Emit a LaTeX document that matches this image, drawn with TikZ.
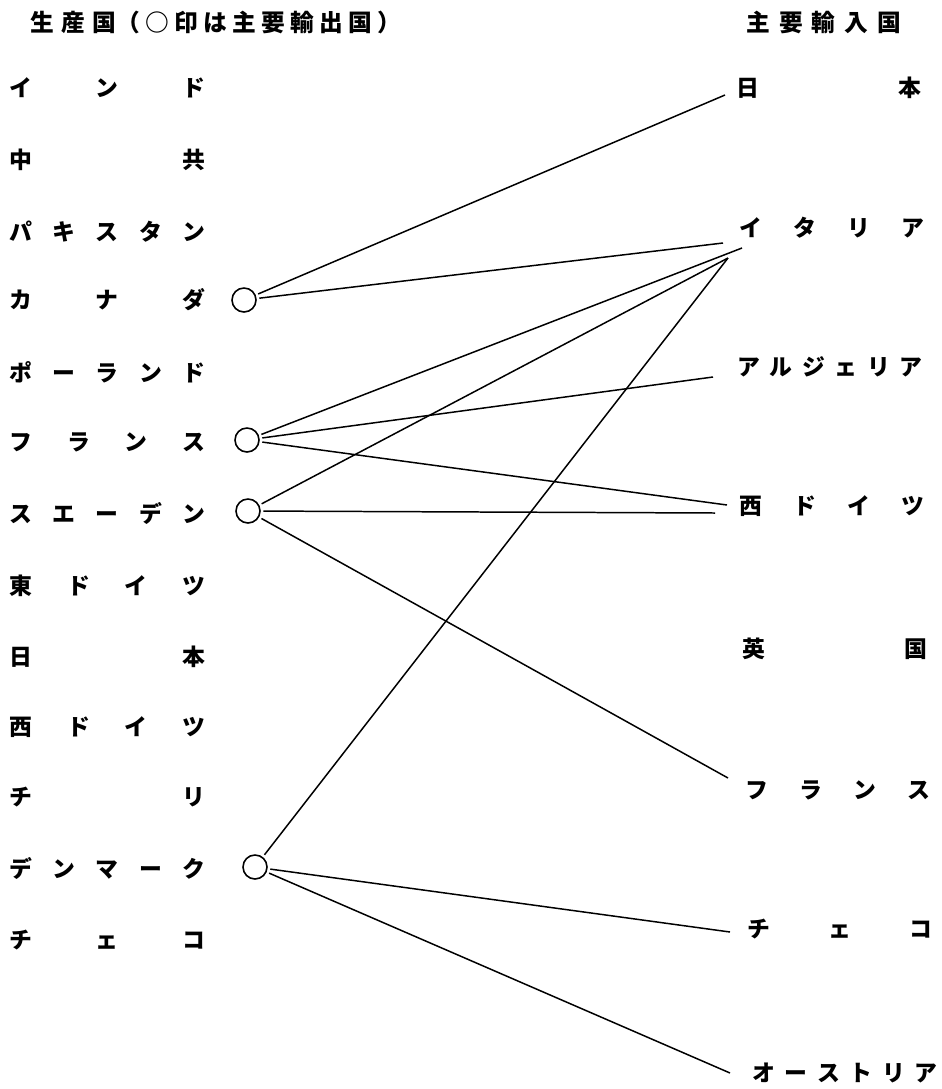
\documentclass[tikz,border=0pt]{standalone}
\usepackage{fontspec}
\usepackage{tikz}
\usetikzlibrary{positioning}
\newfontfamily\jpfont{Noto Sans CJK JP}

\tikzset{
  rowlabel/.style={anchor=west, inner sep=0pt, font=\jpfont\bfseries\fontsize{13}{15}\selectfont},
  headlabel/.style={anchor=west, inner sep=0pt, font=\jpfont\bfseries\fontsize{13.5}{16}\selectfont},
  exporter/.style={circle, draw, line width=0.9pt, minimum size=0.48cm, inner sep=0pt},
  trade/.style={line width=0.85pt, shorten <=1.5pt}
}
\newcommand{\lspread}[1]{\makebox[3.92cm][s]{#1}}
\newcommand{\rspread}[1]{\makebox[3.7cm][s]{#1}}

\begin{document}
\begin{tikzpicture}[x=0.02cm, y=-0.02cm]
\useasboundingbox (0,0) rectangle (942,1089);
% headings
\node[headlabel] (hsrc) at (30,22) {\makebox[1.72cm][s]{生\hfill 産\hfill 国}%
  \makebox[5.7cm][s]{（\hfill ○\hfill 印\hfill は\hfill 主\hfill 要\hfill 輸\hfill 出\hfill 国\hfill ）}};
\node[headlabel] (hdst) at (746,22) {\makebox[3.1cm][s]{主\hfill 要\hfill 輸\hfill 入\hfill 国}};
% producing countries
\foreach \nm/\y/\txt in {pIN/88/イ\hfill ン\hfill ド, pCN/160/中\hfill 共,
    pPK/232/パ\hfill キ\hfill ス\hfill タ\hfill ン, pCA/300/カ\hfill ナ\hfill ダ,
    pPL/372/ポ\hfill ー\hfill ラ\hfill ン\hfill ド, pFR/442/フ\hfill ラ\hfill ン\hfill ス,
    pSE/513/ス\hfill エ\hfill ー\hfill デ\hfill ン, pDD/586/東\hfill ド\hfill イ\hfill ツ,
    pJP/657/日\hfill 本, pDE/727/西\hfill ド\hfill イ\hfill ツ, pCL/797/チ\hfill リ,
    pDK/868/デ\hfill ン\hfill マ\hfill ー\hfill ク, pCZ/940/チ\hfill ェ\hfill コ}{
  \node[rowlabel] (\nm) at (9,\y) {\lspread{\txt}};
}
% main exporters
\node[exporter] (oCA) at (244,300) {};
\node[exporter] (oFR) at (247,440) {};
\node[exporter] (oSE) at (248,511) {};
\node[exporter] (oDK) at (255,867) {};
% importing countries
\foreach \nm/\x/\y/\txt in {mJP/736/88/日\hfill 本, mIT/739/228/イ\hfill タ\hfill リ\hfill ア,
    mDZ/737/367/ア\hfill ル\hfill ジ\hfill ェ\hfill リ\hfill ア, mDE/739/506/西\hfill ド\hfill イ\hfill ツ,
    mGB/742/649/英\hfill 国, mFR/745/790/フ\hfill ラ\hfill ン\hfill ス,
    mCZ/747/929/チ\hfill ェ\hfill コ, mAT/752/1073/オ\hfill ー\hfill ス\hfill ト\hfill リ\hfill ア}{
  \node[rowlabel] (\nm) at (\x,\y) {\rspread{\txt}};
}
% line ends in front of the importers
\coordinate (eJP) at (725,95);
\coordinate (eIT1) at (723,243);
\coordinate (eIT2) at (742,248);
\coordinate (eIT3) at (728,258);
\coordinate (eDZ) at (713,377);
\coordinate (eDE1) at (727,505);
\coordinate (eDE2) at (715,513);
\coordinate (eFR) at (728,778);
\coordinate (eCZ) at (730,932);
\coordinate (eAT) at (730,1073);
% trade links
\foreach \a/\b in {oCA/eJP, oCA/eIT1, oFR/eIT2, oFR/eDZ, oFR/eDE1,
    oSE/eIT3, oSE/eDE2, oSE/eFR, oDK/eIT3, oDK/eCZ, oDK/eAT}
  \draw[trade] (\a) -- (\b);
\end{tikzpicture}
\end{document}
